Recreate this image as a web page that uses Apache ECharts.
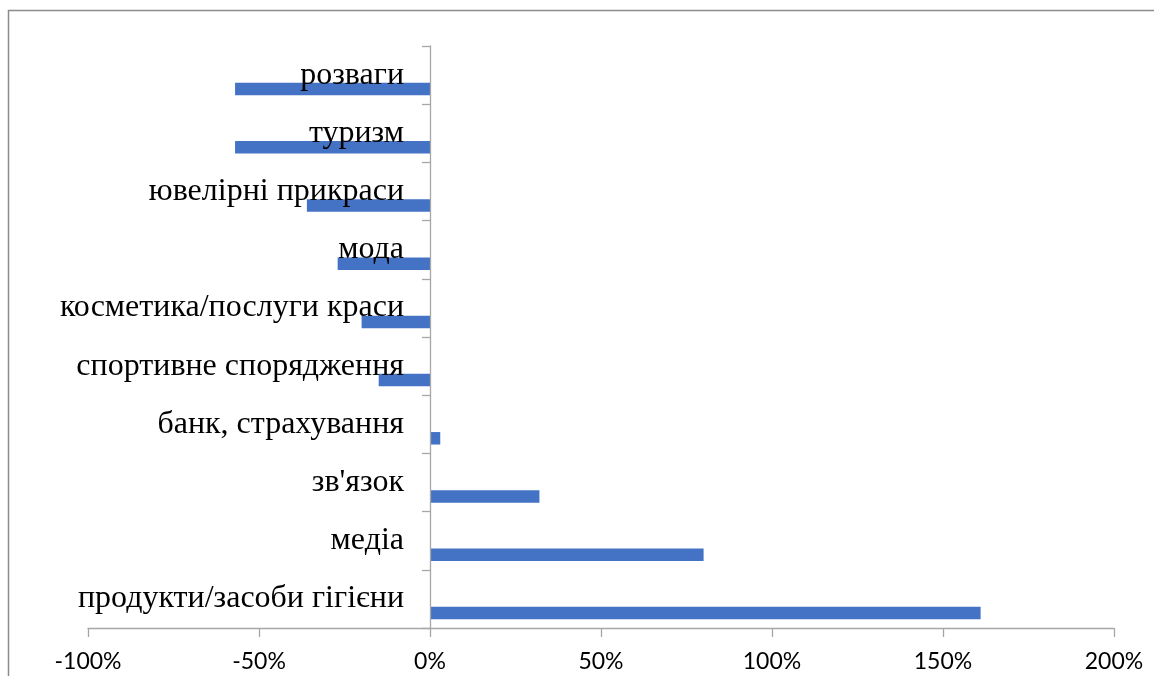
<!DOCTYPE html>
<html>
<head>
<meta charset="utf-8">
<script src="https://cdn.jsdelivr.net/npm/echarts@6/dist/echarts.min.js"></script>
<style>
html,body{margin:0;padding:0;background:#fff;}
#chart{width:1154px;height:676px;}
</style>
</head>
<body>
<div id="chart"></div>
<script>
// Categories listed bottom to top (ECharts category y axis starts at the bottom)
const categories = [
  'продукти/засоби гігієни',
  'медіа',
  "зв'язок",
  'банк, страхування',
  'спортивне спорядження',
  'косметика/послуги краси',
  'мода',
  'ювелірні прикраси',
  'туризм',
  'розваги'
];
const values = [161, 80, 32, 3, -15, -20, -27, -36, -57, -57];
const emptySlot = categories.map(() => '-');
const xTicks = [-100, -50, 0, 50, 100, 150, 200];

const gridLeft = 88, gridRight = 40;
const plotWidth = 1154 - gridLeft - gridRight;
const xMin = xTicks[0], xMax = xTicks[xTicks.length - 1];
// shift the category axis so it sits on the value 0 of the x axis
const zeroShift = plotWidth * (0 - xMin) / (xMax - xMin);

const chart = echarts.init(document.getElementById('chart'));
chart.setOption({
  animation: false,
  backgroundColor: '#ffffff',
  graphic: [{
    type: 'rect',
    shape: { x: 8.5, y: 10.5, width: 1160, height: 700 },
    style: { fill: 'none', stroke: '#8c8c8c', lineWidth: 1.5 },
    silent: true
  }],
  grid: { left: gridLeft, right: gridRight, top: 46, bottom: 48, containLabel: false, outerBoundsMode: 'none' },
  xAxis: {
    type: 'value',
    min: xMin,
    max: xMax,
    interval: 50,
    axisLine: { show: true, lineStyle: { color: '#a6a6a6', width: 1.3 } },
    axisTick: { show: true, length: 9, lineStyle: { color: '#a6a6a6', width: 1.3 } },
    splitLine: { show: false },
    axisLabel: {
      margin: 22,
      fontFamily: 'Lato',
      fontSize: 23,
      color: '#000',
      formatter: v => v + '%'
    }
  },
  yAxis: {
    type: 'category',
    data: categories,
    z: 10,
    offset: -zeroShift,
    axisLine: { show: true, onZero: false, lineStyle: { color: '#a6a6a6', width: 1.3 } },
    axisTick: { show: true, length: 8, lineStyle: { color: '#a6a6a6', width: 1.3 } },
    axisLabel: {
      margin: 26,
      fontFamily: 'Liberation Serif',
      fontSize: 32,
      color: '#000',
      padding: [10, 0, 0, 0]
    }
  },
  series: [
    {
      type: 'bar',
      data: emptySlot,
      barWidth: 12.5,
      barGap: '124%',
      itemStyle: { color: '#4472C4' }
    },
    {
      type: 'bar',
      data: values,
      barWidth: 12.5,
      barGap: '124%',
      itemStyle: { color: '#4472C4' }
    }
  ]
});
</script>
</body>
</html>
